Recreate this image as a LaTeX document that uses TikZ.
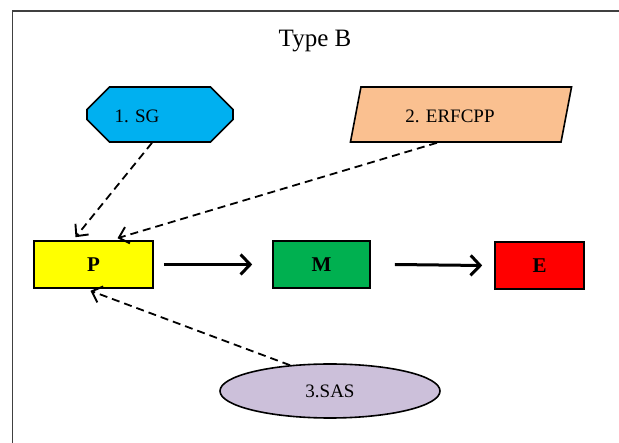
\documentclass[tikz,border=0pt]{standalone}
\usepackage{fontspec}
\setmainfont{Liberation Serif}
\usetikzlibrary{arrows.meta,shapes.misc,shapes.geometric}
\definecolor{sgblue}{HTML}{00B0F0}
\definecolor{erforange}{HTML}{FAC090}
\definecolor{pyellow}{HTML}{FFFF00}
\definecolor{mgreen}{HTML}{00B050}
\definecolor{ered}{HTML}{FF0000}
\definecolor{saslilac}{HTML}{CCC0DA}
\tikzset{
  box/.style={draw=black, line width=1.6pt, minimum width=119pt, minimum height=47pt,
    inner sep=0pt, font=\fontsize{21}{24}\selectfont\bfseries},
  label/.style={font=\fontsize{19}{22}\selectfont},
  flow/.style={line width=3pt, -{Straight Barb[length=9.5pt,width=20pt,line width=3pt]}},
  feed/.style={line width=1.8pt, dash pattern=on 8pt off 5pt,
    -{Straight Barb[length=9pt,width=17pt,line width=1.9pt]}}
}
\begin{document}
\begin{tikzpicture}[x=1pt,y=-1pt]
  \useasboundingbox (0,0) rectangle (619,443);
  % frame edges
  \draw[line width=1.6pt, draw=black!75] (12.5,443) -- (12.5,11) -- (619,11);

  \node[label, font=\fontsize{25}{28}\selectfont] (title) at (315,41) {Type B};

  % inputs
  \node[label, draw=black, line width=1.6pt, fill=sgblue, chamfered rectangle,
        chamfered rectangle xsep=16pt, chamfered rectangle ysep=16pt,
        minimum width=146pt, minimum height=55pt, inner sep=0pt] (sg) at (160,114.5) {\phantom{1. SG}};
  \node[label] (sgtext) at (137,116) {1. SG};
  \node[label, draw=black, line width=1.6pt, fill=erforange, trapezium,
        trapezium left angle=70, trapezium right angle=110, trapezium stretches=true,
        minimum width=222pt, minimum height=55pt, inner sep=0pt] (erf) at (461,114.5) {\phantom{2. ERFCPP}};
  \node[label] (erftext) at (450,116) {2. ERFCPP};
  \node[label, draw=black, line width=1.6pt, fill=saslilac, ellipse,
        minimum width=220pt, minimum height=54pt, inner sep=0pt] (sas) at (330,391) {3.SAS};

  % main chain
  \node[box, fill=pyellow] (p) at (93.5,264.5) {P};
  \node[box, fill=mgreen, minimum width=97pt] (m) at (321.5,264.5) {M};
  \node[box, fill=ered, minimum width=89pt] (e) at (539.5,265.5) {E};

  \draw[flow] ([xshift=10pt]p.east) -- ([xshift=-20pt]m.west);
  \draw[flow] ([xshift=24pt]m.east) -- ([xshift=-12pt]e.west);

  % dashed influences
  \draw[feed] ([xshift=-8pt]sg.south) -- ([xshift=-18pt,yshift=3pt]p.north);
  \draw[feed] ([xshift=-24pt]erf.south) -- ([xshift=24pt,yshift=2pt]p.north);
  \draw[feed] ([xshift=-40pt,yshift=-2pt]sas.north) -- ([xshift=-3pt,yshift=-2pt]p.south);
\end{tikzpicture}
\end{document}
